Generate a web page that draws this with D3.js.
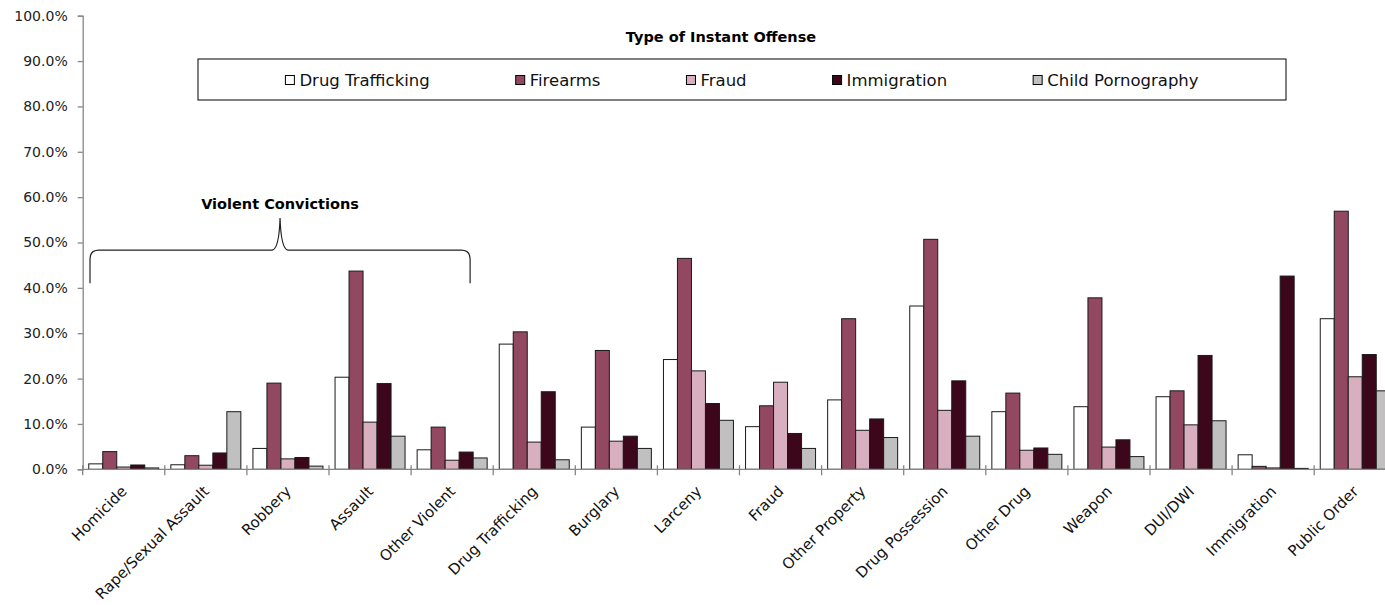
<!DOCTYPE html>
<html>
<head>
<meta charset="utf-8">
<script src="https://cdn.jsdelivr.net/npm/d3@7"></script>
<style>
  html, body { margin: 0; padding: 0; background: #fff; }
  svg { display: block; font-family: "DejaVu Sans", sans-serif; }
</style>
</head>
<body>
<svg id="chart" width="1385" height="605"></svg>
<script>
// ---------- data ----------
const categories = ["Homicide", "Rape/Sexual Assault", "Robbery", "Assault", "Other Violent",
  "Drug Trafficking", "Burglary", "Larceny", "Fraud", "Other Property", "Drug Possession",
  "Other Drug", "Weapon", "DUI/DWI", "Immigration", "Public Order"];
const seriesNames = ["Drug Trafficking", "Firearms", "Fraud", "Immigration", "Child Pornography"];
const drugTrafficking = [1.2, 1.0, 4.6, 20.3, 4.3, 27.6, 9.3, 24.2, 9.4, 15.3, 36.0, 12.7, 13.8, 16.0, 3.2, 33.2];
const firearms        = [3.9, 3.0, 19.0, 43.7, 9.3, 30.3, 26.2, 46.5, 14.0, 33.2, 50.7, 16.8, 37.8, 17.3, 0.65, 56.9];
const fraud           = [0.5, 0.9, 2.3, 10.4, 2.0, 6.0, 6.2, 21.7, 19.2, 8.6, 13.0, 4.2, 4.9, 9.8, 0.3, 20.4];
const immigration     = [0.95, 3.6, 2.6, 18.9, 3.8, 17.1, 7.3, 14.5, 7.9, 11.1, 19.5, 4.7, 6.5, 25.1, 42.6, 25.3];
const childPornography= [0.3, 12.7, 0.7, 7.3, 2.5, 2.1, 4.6, 10.8, 4.6, 7.0, 7.3, 3.3, 2.8, 10.7, 0.2, 17.3];
const yTicks = [0, 10, 20, 30, 40, 50, 60, 70, 80, 90, 100];
const chartTitle = "Type of Instant Offense";
const annotationText = "Violent Convictions";
const annotatedCategories = ["Homicide", "Other Violent"];

const seriesValues = [drugTrafficking, firearms, fraud, immigration, childPornography];
const colors = ["#ffffff", "#934862", "#d8afbf", "#3c061b", "#c0c0c0"];

// ---------- layout ----------
const svg = d3.select("#chart");
const plotLeft = 82.7, plotRight = 1396.3, plotTop = 15.7, plotBottom = 469.3;

const x0 = d3.scaleBand().domain(categories).range([plotLeft, plotRight]).paddingInner(0).paddingOuter(0);
const x1 = d3.scaleBand().domain(seriesNames).range([0, x0.bandwidth()]).paddingInner(0).paddingOuter(0.432);
const y = d3.scaleLinear().domain([0, 100]).range([plotBottom, plotTop]);
const color = d3.scaleOrdinal().domain(seriesNames).range(colors);

const rows = [];
categories.forEach((c, i) => {
  seriesNames.forEach((s, j) => rows.push({ cat: c, series: s, value: seriesValues[j][i] }));
});

// bars
svg.append("g").selectAll("rect").data(rows).join("rect")
  .attr("x", d => x0(d.cat) + x1(d.series))
  .attr("y", d => y(d.value))
  .attr("width", x1.bandwidth())
  .attr("height", d => plotBottom - y(d.value))
  .attr("fill", d => color(d.series))
  .attr("stroke", "#1a1a1a")
  .attr("stroke-width", 1);

// y axis
const yAxis = d3.axisLeft(y).tickValues(yTicks).tickSize(5).tickPadding(10)
  .tickFormat(d => d3.format(".1f")(d) + "%");
const gy = svg.append("g").attr("transform", `translate(${plotLeft},0)`).call(yAxis);
gy.select(".domain").attr("stroke", "#868686").attr("stroke-width", 1.3);
gy.selectAll(".tick line").attr("stroke", "#868686").attr("stroke-width", 1.3);
gy.selectAll(".tick text").attr("fill", "#222").style("font-size", "14px")
  .style("font-family", "'DejaVu Sans', sans-serif");

// x axis line and boundary ticks
svg.append("line").attr("x1", plotLeft).attr("x2", plotRight).attr("y1", plotBottom).attr("y2", plotBottom)
  .attr("stroke", "#868686").attr("stroke-width", 1.3);
const boundaries = categories.map(c => x0(c)).concat([plotRight]);
svg.append("g").selectAll("line").data(boundaries).join("line")
  .attr("x1", d => d).attr("x2", d => d).attr("y1", plotBottom - 4).attr("y2", plotBottom + 6)
  .attr("stroke", "#868686").attr("stroke-width", 1.3);

// x labels
svg.append("g").selectAll("text").data(categories).join("text")
  .attr("transform", d => `translate(${x0(d) + x0.bandwidth() / 2 + 4},${plotBottom + 23}) rotate(-45)`)
  .attr("text-anchor", "end")
  .attr("fill", "#111")
  .style("font-size", "15px")
  .text(d => d);

// title
svg.append("text").attr("x", 721).attr("y", 42).attr("text-anchor", "middle")
  .style("font-size", "14.5px").style("font-weight", "bold").attr("fill", "#000")
  .text(chartTitle);

// legend
const lg = svg.append("g");
lg.append("rect").attr("x", 198).attr("y", 59).attr("width", 1088).attr("height", 41)
  .attr("fill", "#fff").attr("stroke", "#000").attr("stroke-width", 1);
const items = lg.selectAll("g.item").data(seriesNames).join("g").attr("class", "item");
items.append("rect").attr("width", 9).attr("height", 9).attr("y", 75.5)
  .attr("fill", d => color(d)).attr("stroke", "#000").attr("stroke-width", 1);
items.append("text").attr("y", 86).style("font-size", "16.5px").attr("fill", "#111").text(d => d);
const widths = [];
items.selectAll("text").each(function () { widths.push(this.getComputedTextLength()); });
const gap = 86, swText = 14;
const total = d3.sum(widths) + widths.length * swText + gap * (widths.length - 1);
let lx = 742 - total / 2;
items.each(function (d, i) {
  d3.select(this).attr("transform", `translate(${lx},0)`);
  d3.select(this).select("text").attr("x", swText);
  lx += swText + widths[i] + gap;
});

// brace annotation
const bL = x0(annotatedCategories[0]) + 7.3;
const bR = x0(annotatedCategories[1]) + 59;
const bM = (bL + bR) / 2;
const bY = y(48.3), bTop = y(55.4), bEnd = y(41.0);
const path = `M${bL},${bEnd} L${bL},${bY + 9} Q${bL},${bY} ${bL + 9},${bY} L${bM - 8},${bY} ` +
  `Q${bM - 1},${bY - 1} ${bM},${bTop} Q${bM + 1},${bY - 1} ${bM + 8},${bY} L${bR - 9},${bY} ` +
  `Q${bR},${bY} ${bR},${bY + 9} L${bR},${bEnd}`;
svg.append("path").attr("d", path).attr("fill", "none").attr("stroke", "#222").attr("stroke-width", 1.2);
svg.append("text").attr("x", bM).attr("y", 209).attr("text-anchor", "middle")
  .style("font-size", "14.5px").style("font-weight", "bold").attr("fill", "#000")
  .text(annotationText);
</script>
</body>
</html>
